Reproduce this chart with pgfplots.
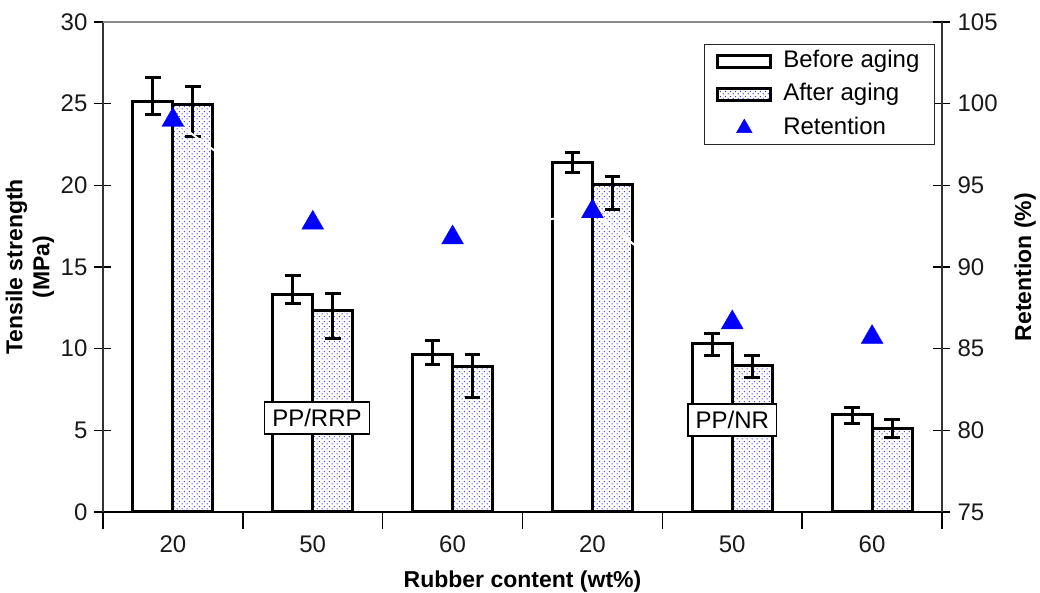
\documentclass[border=0pt]{standalone}
\usepackage{fontspec}
\setmainfont{Liberation Sans}
\usepackage{pgfplots}
\pgfplotsset{compat=1.18}
\usetikzlibrary{patterns}
\pgfdeclarepatternformonly{finedots}{\pgfpointorigin}{\pgfpoint{2.6pt}{2.6pt}}{\pgfpoint{2.6pt}{2.6pt}}{%
  \pgfpathcircle{\pgfpoint{0.65pt}{0.65pt}}{0.4pt}%
  \pgfpathcircle{\pgfpoint{1.95pt}{1.95pt}}{0.4pt}%
  \pgfusepath{fill}}
\newcommand{\tfont}{\fontsize{12}{14}\selectfont}
\newcommand{\lfont}{\fontsize{11.5}{13.5}\selectfont\bfseries}
\begin{document}
\begin{tikzpicture}
\useasboundingbox (-51.5pt,-40.5pt) rectangle (468.5pt,256pt);
\begin{axis}[
  at={(0pt,0pt)}, anchor=south west,
  scale only axis, width=419.5pt, height=245pt,
  xmin=-0.5, xmax=5.5, ymin=0, ymax=30,
  axis x line*=bottom, axis y line*=left,
  x axis line style={-, black, line width=0.9pt},
  y axis line style={-, black!80, line width=1pt},
  xtick={-0.5,0.5,...,5.5},
  x tick label as interval,
  xticklabels={20,50,60,20,50,60},
  ytick={0,5,...,30},
  tick align=center, major tick length=8.5pt,
  tick style={black, line width=0.8pt},
  ticklabel style={font=\tfont, text=black!90},
  /pgf/number format/assume math mode=true,
  xlabel={Rubber content (wt\%)},
  ylabel={Tensile strength\\(MPa)},
  xlabel style={font=\lfont, at={(axis description cs:0.5,-0.142)}, anchor=center},
  ylabel style={font=\lfont, align=center, at={(axis description cs:-0.087,0.5)}, anchor=center, rotate=0},
  ybar=0pt, bar width=0.286,
  clip=false,
]
\addplot[draw=black, fill=white, line width=1.5pt,
  error bars/.cd, y dir=both, y explicit,
  error bar style={black, line width=1.5pt},
  error mark options={rotate=90, black, mark size=3.9pt, line width=1.5pt}]
coordinates {
  (0,25.16) += (0,1.43) -= (0,0.85)
  (1,13.29) += (0,1.20) -= (0,0.51)
  (2,9.67)  += (0,0.80) -= (0,0.67)
  (3,21.39) += (0,0.61) -= (0,0.59)
  (4,10.29) += (0,0.65) -= (0,0.72)
  (5,5.94)  += (0,0.45) -= (0,0.51)
};
\addplot[draw=black, pattern=finedots, pattern color=blue!80, line width=1.5pt,
  error bars/.cd, y dir=both, y explicit,
  error bar style={black, line width=1.5pt},
  error mark options={rotate=90, black, mark size=3.9pt, line width=1.5pt}]
coordinates {
  (0,24.96) += (0,1.08) -= (0,1.96)
  (1,12.31) += (0,1.04) -= (0,1.68)
  (2,8.92)  += (0,0.75) -= (0,1.92)
  (3,20.06) += (0,0.51) -= (0,1.53)
  (4,8.96)  += (0,0.61) -= (0,0.71)
  (5,5.12)  += (0,0.55) -= (0,0.55)
};
\draw[black!45, line width=1pt] (rel axis cs:0,1) -- (rel axis cs:1,1);
\node[draw=black, line width=0.6pt, fill=white, font=\tfont, inner xsep=3.75pt, inner ysep=3pt, minimum height=16pt] at (axis cs:1.03,5.76) {PP/RRP};
\node[draw=black, line width=0.6pt, fill=white, font=\tfont, inner xsep=3.75pt, inner ysep=3pt, minimum height=16pt] at (axis cs:4.0,5.63) {PP/NR};
\end{axis}
\begin{axis}[
  at={(0pt,0pt)}, anchor=south west,
  scale only axis, width=419.5pt, height=245pt,
  xmin=-0.5, xmax=5.5, ymin=75, ymax=105,
  axis y line*=right, axis x line=none,
  y axis line style={-, black!80, line width=1pt},
  ytick={75,80,...,105},
  tick align=center, major tick length=8.5pt,
  tick style={black, line width=0.8pt},
  ticklabel style={font=\tfont, text=black!90},
  /pgf/number format/assume math mode=true,
  ylabel={Retention (\%)},
  ylabel style={font=\lfont, at={(axis description cs:1.099,0.5)}, anchor=center, rotate=0},
  legend style={at={(axis description cs:1,1)}, anchor=north east, xshift=-3.5pt, yshift=-11pt,
    draw=black!85, line width=0.6pt, font=\tfont, inner xsep=6pt, inner ysep=0.75pt,
    row sep=1.75pt, nodes={inner sep=1.5pt, text height=9pt, text depth=3pt},
    /tikz/every odd column/.append style={column sep=4pt}},
  legend cell align=left,
  clip=false,
]
\addlegendimage{legend image code/.code={\draw[black,line width=1.5pt,fill=white] (0pt,-3pt) rectangle (26.5pt,3pt);}}
\addlegendentry{Before aging}
\addlegendimage{legend image code/.code={\draw[black,line width=1.5pt,pattern=finedots,pattern color=blue!80] (0pt,-3pt) rectangle (26.5pt,3pt);}}
\addlegendentry{After aging}
\addplot[white, line width=1pt, mark=triangle*, mark size=6.3pt,
  mark options={solid, draw=blue, fill=blue, line width=0.2pt},
  legend image code/.code={\path plot[mark=triangle*, mark size=4.5pt, mark options={draw=blue, fill=blue, line width=0.2pt}] coordinates {(13.25pt,0pt)};}]
coordinates {(0,99.0) (1,92.7) (2,91.8) (3,93.4) (4,86.6) (5,85.7)};
\addlegendentry{Retention}
\end{axis}
\end{tikzpicture}
\end{document}
